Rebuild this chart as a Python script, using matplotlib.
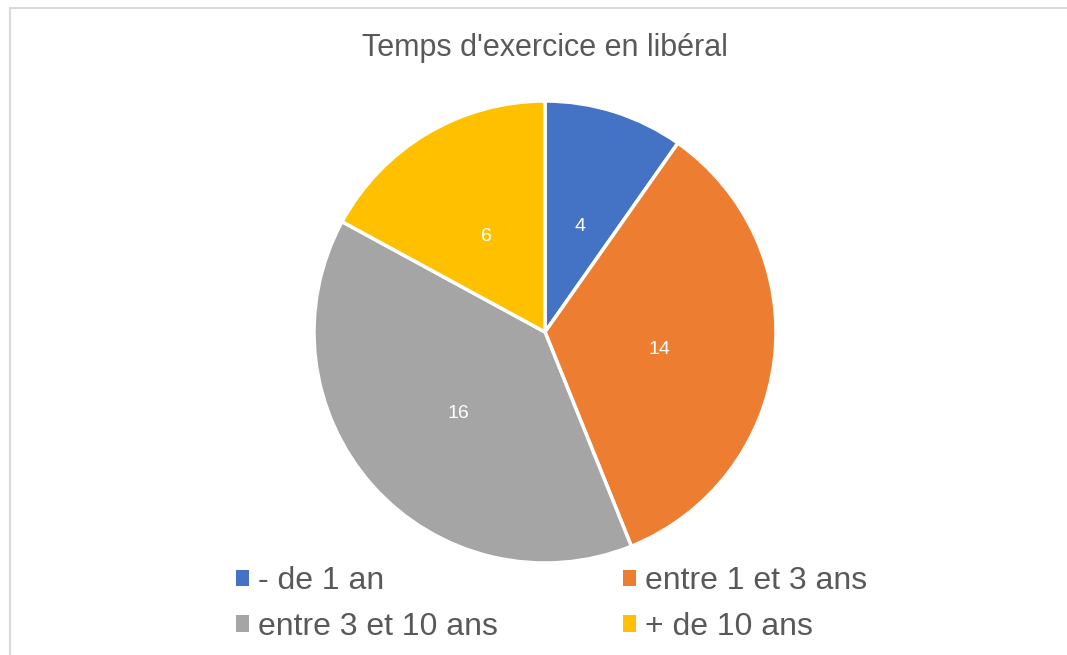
import numpy as np
import matplotlib.pyplot as plt
from matplotlib.patches import Rectangle, Patch

labels = ["- de 1 an", "entre 1 et 3 ans", "entre 3 et 10 ans", "+ de 10 ans"]
# slice sizes, value labels as printed
sizes = [4, 14, 16, 7]
value_labels = ["4", "14", "16", "6"]
colors = ["#4472c4", "#ed7d31", "#a5a5a5", "#ffc000"]

W, H = 1067, 655
TXT = "#595959"
plt.rcParams["font.family"] = ["Liberation Sans", "DejaVu Sans"]

fig = plt.figure(figsize=(W / 100, H / 100), dpi=100)

# chart area border (runs off the right and bottom edges)
fig.patches.append(Rectangle((10 / W, -0.05), 1.1, (H - 8) / H + 0.05,
                             transform=fig.transFigure, fill=False,
                             edgecolor="#d9d9d9", linewidth=1.5))

cx, cy, r = 545, 332, 231
ax = fig.add_axes([(cx - r) / W, (H - cy - r) / H, 2 * r / W, 2 * r / H])
wedges, _ = ax.pie(sizes, colors=colors, startangle=90, counterclock=False,
                   wedgeprops=dict(edgecolor="white", linewidth=2.5))
ax.set_xlim(-1, 1)
ax.set_ylim(-1, 1)
ax.axis("off")

# value labels at half the radius, nudged down a little
for w, txt in zip(wedges, value_labels):
    a = np.deg2rad((w.theta1 + w.theta2) / 2)
    ax.text(0.5 * np.cos(a), 0.5 * np.sin(a) - 0.018, txt, ha="center",
            va="center", color="white", fontsize=14)

fig.text(cx / W, (H - 48) / H, "Temps d'exercice en libéral", ha="center",
         va="center", fontsize=22, color=TXT)

# legend filled row by row
order = [0, 2, 1, 3]
handles = [Patch(facecolor=colors[i], edgecolor="none") for i in order]
fig.legend(handles, [labels[i] for i in order], ncol=2,
           loc="upper left", bbox_to_anchor=(236 / W, (H - 566) / H),
           frameon=False, fontsize=23, labelcolor=TXT, handlelength=0.4,
           handleheight=0.4, handletextpad=0.3, columnspacing=3.9,
           labelspacing=0.5, borderaxespad=0, borderpad=0)

fig.savefig("out.png", dpi=100, facecolor="white")
